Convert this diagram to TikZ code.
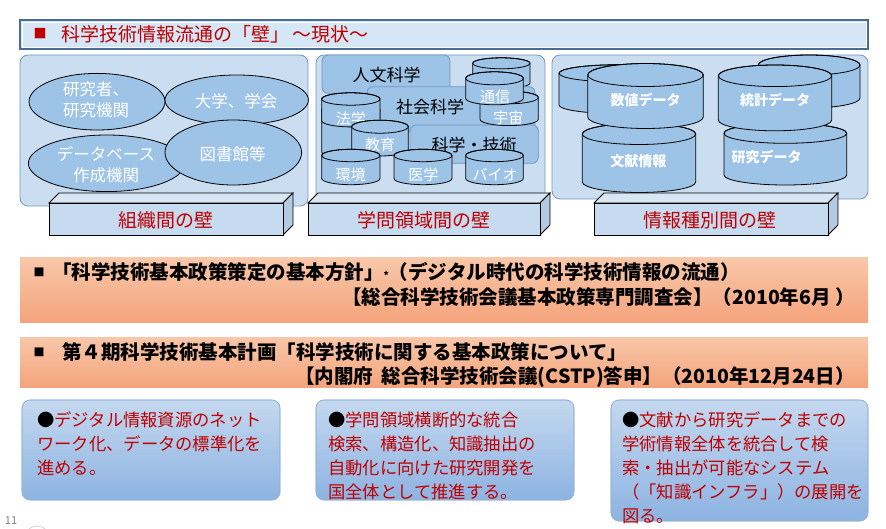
\documentclass[tikz,border=0pt]{standalone}
\usepackage{fontspec}
\setmainfont{Noto Sans CJK JP}
\usepackage[usenames,dvipsnames]{xcolor}
\usepackage{tikz}

\definecolor{titlefill}{HTML}{D5E6F6}
\definecolor{titleedge}{HTML}{4A6C92}
\definecolor{panelfill}{HTML}{CBDEF1}
\definecolor{paneledge}{HTML}{7497BE}
\definecolor{itemfill}{HTML}{9DC3E6}
\definecolor{darkred}{HTML}{C00000}
\definecolor{wallfrontc}{HTML}{C6DAF0}
\definecolor{walltopc}{HTML}{D9E6F4}
\definecolor{wallsidec}{HTML}{B4CAE3}
\definecolor{orangetop}{HTML}{F8C7A9}
\definecolor{orangebot}{HTML}{F4A47C}
\definecolor{bluetop}{HTML}{C4D8EF}
\definecolor{bluebot}{HTML}{8DB3E2}
\definecolor{blueedge}{HTML}{95B3D7}

\tikzset{
  panel/.style={fill=panelfill, draw=paneledge, line width=0.8, rounded corners=8},
  item/.style={fill=itemfill, draw=black, line width=0.8},
  subj/.style={fill=itemfill, draw=paneledge, line width=0.8, rounded corners=6},
  itemlbl/.style={text=white, align=center, inner sep=0, font=\fontsize{16.5}{21}\selectfont},
  cyllbl/.style={text=white, inner sep=0, font=\fontsize{15}{15}\selectfont},
  datalbl/.style={text=white, inner sep=0, font=\bfseries\fontsize{14}{14}\selectfont},
  subjlbl/.style={text=black, inner sep=0, font=\fontsize{17}{17}\selectfont},
  walllbl/.style={text=darkred, inner sep=0, font=\fontsize{19}{19}\selectfont},
  policy/.style={text=black, inner sep=0, font=\bfseries\fontsize{19.5}{19.5}\selectfont},
  bluebox/.style={top color=bluetop, bottom color=bluebot, draw=blueedge, line width=0.6, rounded corners=8},
  goal/.style={text=darkred, align=left, anchor=north west, inner sep=0, font=\fontsize{17.3}{24}\selectfont}
}

% left, right, top centre, bottom centre, y radius
\newcommand{\dbcyl}[5]{%
  \filldraw [item] (#1,-#3) -- (#1,-#4) arc [start angle=180, end angle=360, x radius={(#2-#1)/2}, y radius=#5]
    -- (#2,-#3) arc [start angle=0, end angle=180, x radius={(#2-#1)/2}, y radius=#5] -- cycle;
  \draw [line width=0.8] ({(#1+#2)/2},-#3) ellipse [x radius={(#2-#1)/2}, y radius=#5];
}
% left, right, top, bottom of the front face
\newcommand{\wallbox}[4]{%
  \filldraw [fill=walltopc, draw=black, line width=0.8] (#1,-#3) -- ({#1+10},{-#3+10}) -- ({#2+10},{-#3+10}) -- (#2,-#3) -- cycle;
  \filldraw [fill=wallsidec, draw=black, line width=0.8] (#2,-#3) -- ({#2+10},{-#3+10}) -- ({#2+10},{-#4+10}) -- (#2,-#4) -- cycle;
  \filldraw [fill=wallfrontc, draw=black, line width=0.8] (#1,-#3) rectangle (#2,-#4);
}

\begin{document}
\begin{tikzpicture}[x=1pt, y=1pt]
      \useasboundingbox (0,0) rectangle (886,-529);

      \filldraw [fill=titlefill, draw=titleedge, line width=2.2] (20,-20) rectangle (868,-49);
      \draw [white, line width=0.6] (22,-22) rectangle (866,-47);
      \node[text=darkred, inner sep=0, font=\fontsize{13}{13}\selectfont](sq) at (40,-34){■};
      \node[text=darkred, anchor=west, inner sep=0, font=\fontsize{19}{19}\selectfont](title) at (61,-34){科学技術情報流通の「壁」\,～現状～};

      \draw [panel] (20,-55) rectangle (308,-206);
      \draw [panel] (316,-55) rectangle (545,-207);
      \draw [panel] (552,-55) rectangle (868,-199);

      \filldraw [item] (97,-101.7) ellipse [x radius=68, y radius=28.3];
      \filldraw [item] (236.7,-100) ellipse [x radius=71.7, y radius=25];
      \filldraw [item] (106.7,-163.3) ellipse [x radius=78.3, y radius=28.3];
      \filldraw [item] (233.3,-152.5) ellipse [x radius=68.3, y radius=32.5];
      \node[itemlbl](res) at (96,-99.5){研究者、\\研究機関};
      \node[itemlbl](univ) at (236,-101.7){大学、学会};
      \node[itemlbl](dbmaker) at (106,-165){データベース\\作成機関};
      \node[itemlbl](lib) at (232.5,-154){図書館等};

      \draw [subj] (322,-55) rectangle (450,-93.3);
      \node[subjlbl](hum) at (386.7,-75){人文科学};
      \dbcyl{472.7}{530}{63.3}{83}{5.5}
      \draw [subj] (367,-86.7) rectangle (535,-132);
      \node[subjlbl](soc) at (430,-106.7){社会科学};
      \draw [subj] (410,-125) rectangle (538.3,-163.3);
      \node[subjlbl](scitech) at (474,-145){科学・技術};
      \dbcyl{480}{538.3}{97.5}{119.3}{6.3}
      \node[cyllbl](space) at (508.3,-118.3){宇宙};
      \dbcyl{465.7}{523.3}{78.3}{98.3}{6.5}
      \node[cyllbl](comm) at (495,-96.7){通信};
      \dbcyl{321.7}{380}{110}{152}{6.2}
      \dbcyl{321.7}{380}{99}{120.7}{6.2}
      \node[cyllbl](law) at (350.8,-118.3){法学};
      \dbcyl{351.7}{408.3}{126.7}{149.5}{6.5}
      \node[cyllbl](edu) at (380,-145){教育};
      \dbcyl{321.7}{380}{155.5}{178.5}{6.2}
      \node[cyllbl](env) at (350.7,-175){環境};
      \dbcyl{394}{452}{155.5}{178.5}{6.2}
      \node[cyllbl](med) at (423.3,-175){医学};
      \dbcyl{465.7}{523.3}{155.5}{178.5}{6.2}
      \node[cyllbl](bio) at (495,-175){バイオ};

      \dbcyl{559}{673}{73.3}{105}{8.5}
      \dbcyl{582.3}{695.7}{134}{182}{10.5}
      \node[datalbl](doc) at (638.3,-161.7){文献情報};
      \dbcyl{587.7}{703.3}{75}{117}{11.5}
      \node[datalbl](num) at (645.5,-100){数値データ};
      \dbcyl{758.3}{860}{65}{98}{10}
      \dbcyl{724}{846.7}{133.3}{175}{10}
      \node[datalbl](resdata) at (766.7,-156.7){研究データ};
      \dbcyl{718.3}{831.7}{75.8}{120}{10.8}
      \node[datalbl](stat) at (775,-100){統計データ};

      \wallbox{49}{283}{203}{235}
      \node[walllbl](orgwall) at (166,-220){組織間の壁};
      \wallbox{308}{540}{203}{235}
      \node[walllbl](fieldwall) at (424,-220){学問領域間の壁};
      \wallbox{594}{828}{203}{235}
      \node[walllbl](typewall) at (710,-220){情報種別間の壁};

      \shade [top color=orangetop, bottom color=orangebot] (20,-258) rectangle (868,-322);
      \node[policy, font=\fontsize{11}{11}\selectfont](sqa) at (39,-272){■};
      \node[policy, anchor=west](basic) at (52,-272){「科学技術基本政策策定の基本方針」{\fontsize{10}{10}\selectfont *}（デジタル時代の科学技術情報の流通）};
      \node[policy, anchor=east](council) at (855,-297){【総合科学技術会議基本政策専門調査会】（2010年6月 ）};

      \shade [top color=orangetop, bottom color=orangebot] (20,-337) rectangle (868,-387);
      \node[policy, font=\fontsize{11}{11}\selectfont](sqb) at (39,-352){■};
      \node[policy, anchor=west](plan) at (62,-352){第４期科学技術基本計画「科学技術に関する基本政策について」};
      \node[policy, anchor=east](cstp) at (855,-377){【内閣府\ \ 総合科学技術会議(CSTP)答申】（2010年12月24日）};

      \shade [bluebox] (22,-400) rectangle (280,-500);
      \draw [blueedge, line width=0.6, rounded corners=8] (22,-400) rectangle (280,-500);
      \node[goal](net) at (37,-412){{\color{black}●}デジタル情報資源のネット\\ワーク化、データの標準化を\\進める。};

      \shade [bluebox] (316,-400) rectangle (574,-500);
      \draw [blueedge, line width=0.6, rounded corners=8] (316,-400) rectangle (574,-500);
      \node[goal](cross) at (328,-412){{\color{black}●}学問領域横断的な統合\\検索、構造化、知識抽出の\\自動化に向けた研究開発を\\国全体として推進する。};

      \shade [bluebox] (611,-400) rectangle (868,-521);
      \draw [blueedge, line width=0.6, rounded corners=8] (611,-400) rectangle (868,-521);
      \node[goal](infra) at (622,-412){{\color{black}●}文献から研究データまでの\\学術情報全体を統合して検\\索・抽出が可能なシステム\\（「知識インフラ」）の展開を\\図る。};

      \node[text=gray, inner sep=0, font=\fontsize{11}{11}\selectfont](pageno) at (11,-521){11};
      \draw [gray!35, line width=0.8] (37,-539) circle (13);
    \end{tikzpicture}
\end{document}
